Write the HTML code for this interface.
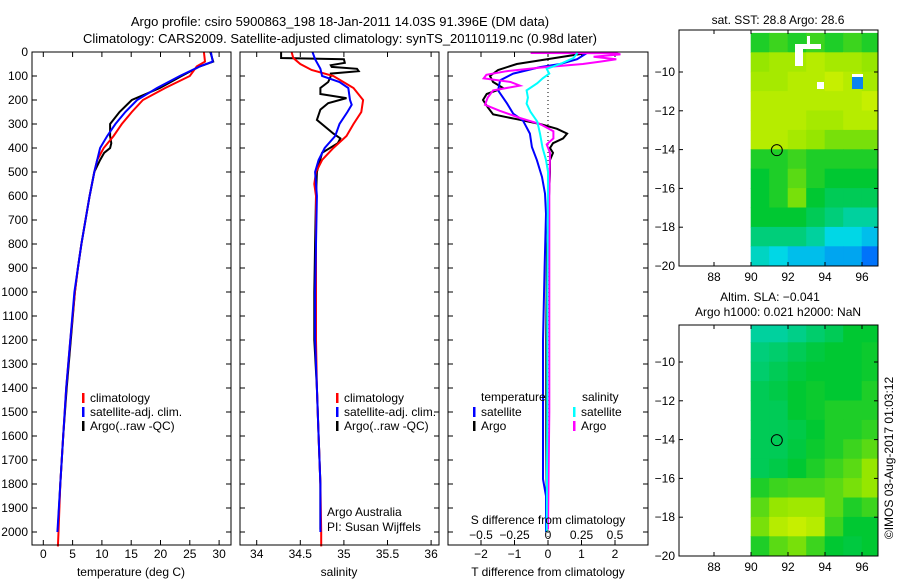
<!DOCTYPE html>
<html><head><meta charset="utf-8"><style>
body{margin:0;background:#fff}
svg text{font-family:"Liberation Sans",sans-serif;font-size:12px;fill:#000}
</style></head><body>
<svg id="c" width="900" height="580" viewBox="0 0 900 580" xmlns="http://www.w3.org/2000/svg">
<rect width="900" height="580" fill="#fff"/>
<text x="340" y="26" text-anchor="middle" style="font-size:13px">Argo profile: csiro 5900863_198 18-Jan-2011 14.03S 91.396E (DM data)</text>
<text x="340" y="43" text-anchor="middle" style="font-size:13px">Climatology: CARS2009. Satellite-adjusted climatology: synTS_20110119.nc (0.98d later)</text>
<g id="g"></g>
</svg>
<script>
// ---- profile data ----
const tDepth=[0,40,60,100,150,200,250,300,350,400,450,500,600,700,800,900,1000,1200,1400,1600,1800,2000,2060];
const tClim=[27.4,27.6,26.2,25,20.8,17,15.1,13.4,12,10.3,9.2,8.7,7.9,7.2,6.5,5.9,5.4,4.6,3.9,3.4,2.9,2.6,2.5];
const tSatDepth=[0,40,60,100,150,200,250,300,350,400,450,500,600,700,800,900,1000,1200,1400,1600,1800,2000];
const tSat=[28.6,28.9,26.7,23.3,19.4,16,14,12.3,10.9,9.7,9.2,8.7,7.9,7.2,6.5,5.9,5.3,4.6,3.9,3.4,2.9,2.4];
const tArgoDepth=[0,40,60,100,150,200,250,300,350,380,400,420,450,500,600,700,800,900,1000,1200,1400,1600,1800,1990];
const tArgo=[28.5,29,26.7,23.6,19.9,15.1,13,11.4,11.4,11.6,11.4,10.4,9.7,8.7,7.9,7.2,6.5,5.9,5.4,4.7,4,3.4,2.9,2.5];
const sClimDepth=[0,25,50,75,100,150,200,250,300,350,400,450,500,550,600,800,1000,1200,1400,1600,1800,2000,2060];
const sClim=[34.40,34.42,34.5,34.63,34.88,35.11,35.22,35.2,35.11,35.03,34.88,34.75,34.68,34.66,34.68,34.68,34.68,34.68,34.69,34.71,34.73,34.74,34.74];
const sSatDepth=[0,30,70,100,125,150,200,220,250,300,350,400,450,500,600,800,1000,1200,1400,1600,1800,2000];
const sSat=[34.64,34.67,34.73,34.75,34.95,35.05,35.07,35.09,35.04,34.95,34.9,34.78,34.71,34.67,34.69,34.68,34.67,34.67,34.69,34.71,34.73,34.73];
const sArgoDepth=[0,25,30,45,55,62,70,80,90,100,125,150,175,192,213,240,283,340,360,380,420,500,600,800,1000,1200,1400,1600,1800,1990];
const sArgo=[34.28,34.28,35.0,35.01,34.85,34.86,35.15,35.17,34.85,34.85,34.82,34.73,34.73,35.03,34.82,34.73,34.69,34.88,34.96,34.93,34.75,34.69,34.68,34.67,34.66,34.66,34.69,34.71,34.73,34.73];
// differences from climatology
const dTSatDepth=[4,30,50,63,90,118,160,215,257,285,340,396,451,521,590,674,900,1200,1437,1780,1850,2000];
const dTSat=[1.16,0.87,0.36,-0.24,-1.04,-1.43,-1.49,-1.22,-1.04,-0.75,-0.54,-0.48,-0.33,-0.18,-0.09,-0.06,-0.1,-0.15,-0.15,-0.15,-0.06,-0.06];
const dTArgoDepth=[4,50,75,100,125,150,175,200,230,260,280,300,320,340,360,380,400,420,450,500,800,1200,1600,1990];
const dTArgo=[1.16,-0.93,-1.49,-1.73,-1.64,-1.34,-1.83,-1.94,-1.8,-1.64,-0.93,-0.24,0.27,0.57,0.45,0.15,0.06,0.15,0.06,0.06,-0.03,-0.05,-0.05,-0.03];
const dSSatDepth=[4,25,50,70,90,110,130,160,190,215,250,290,340,400,450,500,1000,1500,2000];
const dSSat=[0.22,0.19,0.09,-0.01,0.01,-0.04,-0.08,-0.16,-0.15,-0.16,-0.13,-0.08,-0.06,-0.04,-0.015,0,-0.005,-0.005,-0.01];
const dSArgoDepth=[4,5,10,20,30,40,50,65,80,95,110,125,140,160,190,220,245,275,300,330,360,385,420,600,1000,1500,1990];
const dSArgo=[-0.13,0.51,0.54,0.34,0.51,0.39,0.26,-0.06,-0.31,-0.46,-0.48,-0.28,-0.21,-0.41,-0.45,-0.47,-0.36,-0.21,-0.06,0.04,0.04,-0.01,0.015,0.01,0.01,0.01,0.0];
// ---- map data (1-degree cells, rows from 8S to 20S, cols 90E..96E) ----
const sstGrid=[
[0.55,0.6,0.55,0.6,0.55,0.6,0.55],
[0.75,0.8,0.8,0.85,0.8,0.8,0.75],
[0.8,0.8,0.85,0.85,0.9,0.85,0.8],
[0.85,0.85,0.85,0.85,0.85,0.85,0.9],
[0.85,0.85,0.85,0.8,0.8,0.85,0.85],
[0.85,0.85,0.8,0.75,0.7,0.7,0.7],
[0.55,0.55,0.6,0.55,0.55,0.55,0.55],
[0.5,0.55,0.65,0.55,0.5,0.5,0.5],
[0.5,0.55,0.7,0.5,0.45,0.45,0.45],
[0.5,0.5,0.5,0.45,0.4,0.35,0.35],
[0.4,0.4,0.4,0.35,0.25,0.25,0.2],
[0.3,0.25,0.2,0.2,0.15,0.15,0.05]];
const slaGrid=[
[0.35,0.35,0.38,0.42,0.45,0.5,0.5],
[0.4,0.42,0.45,0.48,0.5,0.5,0.52],
[0.42,0.45,0.48,0.5,0.5,0.5,0.52],
[0.45,0.47,0.5,0.52,0.5,0.5,0.55],
[0.45,0.45,0.5,0.52,0.55,0.55,0.55],
[0.45,0.45,0.47,0.5,0.55,0.55,0.58],
[0.45,0.45,0.48,0.52,0.55,0.6,0.65],
[0.45,0.47,0.5,0.55,0.6,0.65,0.75],
[0.55,0.6,0.62,0.62,0.65,0.7,0.75],
[0.65,0.75,0.78,0.78,0.65,0.55,0.6],
[0.7,0.85,0.9,0.85,0.6,0.5,0.5],
[0.55,0.65,0.7,0.6,0.5,0.48,0.5]];
const argoLon=91.396, argoLat=-14.03;

const NS='http://www.w3.org/2000/svg';
const G=document.getElementById('g');
function el(tag,attrs,parent){const e=document.createElementNS(NS,tag);for(const k in attrs)e.setAttribute(k,attrs[k]);(parent||G).appendChild(e);return e;}
function txt(x,y,s,anchor,parent){const t=el('text',{x:x,y:y,'text-anchor':anchor||'middle'},parent);t.textContent=s;return t;}
const Y=d=>52+0.24*d;
const xT=t=>43.3+5.86*t, xS=s=>256.7+87.2*(s-34), xD=v=>548+33.5*v, xDS=v=>548+134*v;
function line(xs,ds,fx,color,name){
  const pts=xs.map((v,i)=>fx(v).toFixed(1)+','+Y(ds[i]).toFixed(1)).join(' ');
  const p=el('polyline',{points:pts,fill:'none',stroke:color,'stroke-width':2});
  
  
}
function box(x0,x1,y0,y1,name){const r=el('rect',{x:x0,y:y0,width:x1-x0,height:y1-y0,fill:'none',stroke:'#000','stroke-width':1});
  
  }
function depthTicks(x0,x1,labels){
  for(let d=0;d<=2000;d+=100){const y=Y(d);
    el('line',{x1:x0,y1:y,x2:x0+5,y2:y,stroke:'#000'});el('line',{x1:x1-5,y1:y,x2:x1,y2:y,stroke:'#000'});
    if(labels){const t=txt(28,y+4,String(d),'end');}}
}
function xTicks(vals,fx,y0,y1,labels,ly){
  vals.forEach(v=>{const x=fx(v);el('line',{x1:x,y1:y1,x2:x,y2:y1-5,stroke:'#000'});el('line',{x1:x,y1:y0,x2:x,y2:y0+5,stroke:'#000'});
    if(labels){const t=txt(x,ly,String(v).replace('-','\u2212'));}});
}
// panel 1
depthTicks(32,231,true);
xTicks([0,5,10,15,20,25,30],xT,52,545,true,558);
line(tArgo,tArgoDepth,xT,'#000','temp-argo-line');
line(tClim,tDepth,xT,'#f00','temp-climatology-line');
line(tSat,tSatDepth,xT,'#00f','temp-satellite-line');
box(32,231,52,545,'temperature-axes');
let t=txt(131,576,'temperature (deg C)');
function legend(x,y,items,name){items.forEach((it,i)=>{const yy=y+i*14;el('rect',{x:x,y:yy-9,width:2.5,height:10,fill:it[0]});const tt=txt(x+8,yy,it[1],'start');});}
legend(82,402,[['#f00','climatology'],['#00f','satellite-adj. clim.'],['#000','Argo(..raw -QC)']],'temp-legend');
// panel 2
depthTicks(240,439,false);
xTicks([34,34.5,35,35.5,36],xS,52,545,true,558);
line(sArgo,sArgoDepth,xS,'#000','sal-argo-line');
line(sClim,sClimDepth,xS,'#f00','sal-climatology-line');
line(sSat,sSatDepth,xS,'#00f','sal-satellite-line');
box(240,439,52,545,'salinity-axes');
t=txt(339,576,'salinity');
legend(336,402,[['#f00','climatology'],['#00f','satellite-adj. clim.'],['#000','Argo(..raw -QC)']],'sal-legend');
t=txt(327,516,'Argo Australia','start');
t=txt(327,531,'PI: Susan Wijffels','start');
// panel 3
depthTicks(448,648,false);
xTicks([-2,-1,0,1,2],xD,52,545,true,558);
el('line',{x1:548,y1:52,x2:548,y2:545,stroke:'#000','stroke-dasharray':'1,3'});
line(dTArgo,dTArgoDepth,xD,'#000','tdiff-argo-line');
line(dTSat,dTSatDepth,xD,'#00f','tdiff-satellite-line');
line(dSArgo,dSArgoDepth,xDS,'#f0f','sdiff-argo-line');
line(dSSat,dSSatDepth,xDS,'#0ff','sdiff-satellite-line');
box(448,648,52,545,'difference-axes');
[-0.5,-0.25,0,0.25,0.5].forEach(v=>{const tt=txt(xDS(v),539,String(v).replace('-','\u2212'));});
t=txt(548,524,'S difference from climatology');
t=txt(548,576,'T difference from climatology');
t=txt(481,401,'temperature','start');
t=txt(582,401,'salinity','start');
legend(473,416,[['#00f','satellite'],['#000','Argo']],'tdiff-legend');
legend(573,416,[['#0ff','satellite'],['#f0f','Argo']],'sdiff-legend');
// maps
function cmap(v){
  const st=[[0,[0,90,255]],[0.25,[0,215,230]],[0.5,[0,200,50]],[0.75,[150,230,0]],[1,[230,245,0]]];
  for(let i=0;i<st.length-1;i++){if(v<=st[i+1][0]){const f=(v-st[i][0])/(st[i+1][0]-st[i][0]);const a=st[i][1],b=st[i+1][1];
    return 'rgb('+a.map((c,k)=>Math.round(c+(b[k]-c)*f)).join(',')+')';}}
  return 'rgb(230,245,0)';
}
function drawMap(grid,y0,y1,latY,name){
  const X=lon=>751+18.5*(lon-90);
  const cid='clip'+name;const cp=el('clipPath',{id:cid});el('rect',{x:679,y:y0,width:199,height:y1-y0},cp);
  const g=el('g',{'clip-path':'url(#'+cid+')'});
  
  
  grid.forEach((row,r)=>row.forEach((v,c)=>{
    const c2=el('rect',{x:X(90+c)-0.3,y:latY(-8-r)-0.3,width:18.5+0.6,height:19.4+0.6,fill:cmap(v)},g);
  }));
  return {X,g};
}
function mapAxes(y0,y1,latY,name){
  const X=lon=>751+18.5*(lon-90);
  [88,90,92,94,96].forEach(l=>{const x=X(l);el('line',{x1:x,y1:y1,x2:x,y2:y1-4,stroke:'#000'});el('line',{x1:x,y1:y0,x2:x,y2:y0+4,stroke:'#000'});
    const tt=txt(x,y1+15,String(l));});
  [-10,-12,-14,-16,-18,-20].forEach(l=>{const y=latY(l);el('line',{x1:679,y1:y,x2:683,y2:y,stroke:'#000'});el('line',{x1:874,y1:y,x2:878,y2:y,stroke:'#000'});
    const tt=txt(675,y+4,String(l).replace('-','\u2212'),'end');});
  box(679,878,y0,y1,name+'-axes');
  const cc=el('circle',{cx:X(argoLon),cy:latY(argoLat),r:5.5,fill:'none',stroke:'#000','stroke-width':1});
  
  
}
const lat1=l=>72+19.4*(-10-l);
const m1=drawMap(sstGrid,30,266,lat1,'sst-map');
// missing/out-of-range pixels
el('rect',{x:795,y:44,width:26,height:5,fill:'#fff'},m1.g);el('rect',{x:807,y:36,width:3,height:10,fill:'#fff'},m1.g);
el('rect',{x:795,y:48,width:8,height:18,fill:'#fff'},m1.g);el('rect',{x:817,y:82,width:7,height:7,fill:'#fff'},m1.g);
el('rect',{x:852,y:76,width:11,height:13,fill:'#0a84f0'},m1.g);el('rect',{x:852,y:74,width:11,height:3,fill:'#fff'},m1.g);
mapAxes(30,266,lat1,'sst-map');
t=txt(778,24,'sat. SST: 28.8 Argo: 28.6');
const lat2=l=>362+19.4*(-10-l);
drawMap(slaGrid,325,556,lat2,'sla-map');
mapAxes(325,556,lat2,'sla-map');
t=txt(770,301,'Altim. SLA: \u22120.041');
t=txt(778,316,'Argo h1000: 0.021 h2000: NaN');
t=txt(0,0,'\u00a9IMOS 03-Aug-2017 01:03:12');t.setAttribute('transform','translate(893,458) rotate(-90)');

</script>
</body></html>
